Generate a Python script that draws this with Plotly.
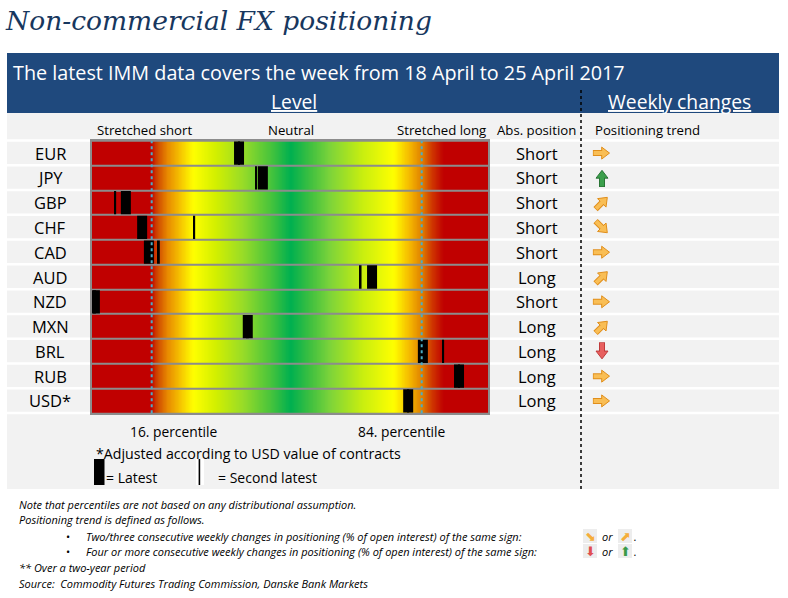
import numpy as np
import plotly.graph_objects as go

# ---------------- data ----------------
currencies = ["EUR", "JPY", "GBP", "CHF", "CAD", "AUD", "NZD", "MXN", "BRL", "RUB", "USD*"]
latest_pct = [38.0, 44.0, 9.5, 13.6, 15.3, 71.5, 1.7, 40.2, 84.3, 93.4, 80.6]
second_latest_pct = [38.0, 42.3, 6.8, 26.7, 17.8, 68.6, 1.7, 40.2, 89.4, 93.4, 80.6]
abs_position = ["Short", "Short", "Short", "Short", "Short", "Long", "Short", "Long", "Long", "Long", "Long"]
trend = ["flat", "up4", "up23", "down23", "flat", "up23", "flat", "up23", "down4", "flat", "flat"]
percentile_lines = [16, 84]
percentile_labels = ["16. percentile", "84. percentile"]
zone_labels = ["Stretched short", "Neutral", "Stretched long"]

# ---------------- style ----------------
W, H = 788, 598
def px(x):
    return x / W
def py(y):
    return 1 - y / H

N = len(currencies)
XMIN, XMAX = 0.97, 100.7
BAR_L, BAR_R, BAR_T, BAR_B = 92, 488, 140.7, 413.3
ROW_H = (BAR_B - BAR_T) / N

grad_stops = [
    (XMIN, "#C00000"), (15.8, "#C00000"), (17.5, "#D04A00"), (20.0, "#E88A00"),
    (23.0, "#F5C000"), (26.5, "#FFFF00"), (32.0, "#D4F000"), (39.0, "#98DC28"),
    (46.0, "#48C43C"), (51.0, "#00B050"), (56.0, "#40C040"), (61.0, "#7ED43A"),
    (69.0, "#C8EE10"), (77.0, "#FFFF00"), (81.0, "#F5B800"), (84.0, "#E08000"),
    (86.5, "#D03A00"), (89.5, "#C00000"), (XMAX, "#C00000"),
]
colorscale = [[(v - XMIN) / (XMAX - XMIN), c] for v, c in grad_stops]

BLUE = "#1F497D"
PANEL = "#F2F2F2"
FONT = "Open Sans"
ORANGE = "#F5AE3A"
GREEN = "#3A9A48"
RED = "#E05050"

arrow_angle = {"flat": 90, "up23": 45, "down23": 135, "up4": 0, "down4": 180}
arrow_fill = {"flat": "#F9BE55", "up23": "#F9BE55", "down23": "#F9BE55", "up4": "#3CA04C", "down4": "#E8605F"}
arrow_line = {"flat": "#E08E1B", "up23": "#E08E1B", "down23": "#E08E1B", "up4": "#2A7436", "down4": "#BF3A3A"}

fig = go.Figure()

xs = np.linspace(XMIN, XMAX, 500)
fig.add_trace(go.Heatmap(
    x=xs, y=currencies, z=[xs for _ in currencies], colorscale=colorscale,
    zmin=XMIN, zmax=XMAX, showscale=False, ygap=2, hoverinfo="skip",
))

LAT_W, SEC_W = 2.52, 0.5
fig.add_trace(go.Bar(
    y=currencies, x=[SEC_W] * N, base=[v - SEC_W / 2 for v in second_latest_pct],
    orientation="h", width=0.94, marker=dict(color="black", line=dict(width=0)), hoverinfo="skip",
))
fig.add_trace(go.Bar(
    y=currencies, x=[LAT_W] * N, base=[v - LAT_W / 2 for v in latest_pct],
    orientation="h", width=0.94, marker=dict(color="black", line=dict(width=0)), hoverinfo="skip",
))

# trend arrows (shaft + head markers, rotated by trend direction;
# marker standoff pushes a marker back against its angle)
ang = [arrow_angle[t] for t in trend]
back = [a + 180 for a in ang]
fills = [arrow_fill[t] for t in trend]
lines = [arrow_line[t] for t in trend]
col = [0] * N
fig.add_trace(go.Scatter(x=col, y=currencies, xaxis="x2", yaxis="y", mode="markers", hoverinfo="skip",
                         marker=dict(symbol="line-ns", size=8, angle=ang, standoff=3.5,
                                     line=dict(width=6, color=lines))))
fig.add_trace(go.Scatter(x=col, y=currencies, xaxis="x2", yaxis="y", mode="markers", hoverinfo="skip",
                         marker=dict(symbol="triangle-down", size=10.4, angle=back, standoff=2.3, color=fills,
                                     line=dict(width=1, color=lines))))
fig.add_trace(go.Scatter(x=col, y=currencies, xaxis="x2", yaxis="y", mode="markers", hoverinfo="skip",
                         marker=dict(symbol="line-ns", size=7, angle=ang, standoff=3.5,
                                     line=dict(width=4, color=fills))))

shapes = []
def rect(x0, y0, x1, y1, color, layer="below"):
    shapes.append(dict(type="rect", xref="paper", yref="paper", x0=px(x0), x1=px(x1),
                       y0=py(y1), y1=py(y0), fillcolor=color, line=dict(width=0), layer=layer))

# gray backing of gradient area (shows through row gaps)
shapes.append(dict(type="rect", xref="x domain", yref="y domain", x0=0, x1=1, y0=0, y1=1,
                   fillcolor="#8C8C8C", line=dict(width=0), layer="below"))
# blue header band
rect(7, 53, 779, 113, BLUE)
# light panel (around the gradient area)
rect(7, 113, 779, BAR_T, PANEL)
rect(7, BAR_T, BAR_L, BAR_B, PANEL)
rect(BAR_R, BAR_T, 779, BAR_B, PANEL)
rect(7, BAR_B, 779, 489, PANEL)
# white row separators in side columns
for i in range(N + 1):
    yb = BAR_T + i * ROW_H
    rect(7, yb - 1.5, BAR_L, yb + 1.0, "white")
    rect(BAR_R + 1, yb - 1.5, 779, yb + 1.0, "white")

# percentile dotted lines
for v in percentile_lines:
    shapes.append(dict(type="line", xref="x", yref="paper", x0=v, x1=v, y0=py(BAR_B), y1=py(BAR_T),
                       line=dict(color="#4BACC6", width=2, dash="dot"), layer="above"))
# section separator
shapes.append(dict(type="line", xref="paper", yref="paper", x0=px(581), x1=px(581), y0=py(489), y1=py(88),
                   line=dict(color="black", width=1.5, dash="dot"), layer="above"))
# legend swatches
rect(94, 459, 104.5, 485, "black", layer="above")
rect(196, 459, 204, 485, "white", layer="above")
rect(198.6, 459, 200.2, 485, "black", layer="above")
# footnote icon backgrounds
for y in (536, 551):
    for x in (590, 625):
        rect(x - 7, y - 7, x + 7, y + 7, "#EDEDED", layer="below")

ann = []
def text(t, x, y, size, color="black", xanchor="center", family=FONT, yref="paper"):
    ann.append(dict(text=t, x=px(x), y=(py(y) if yref == "paper" else y), xref="paper", yref=yref,
                    showarrow=False, xanchor=xanchor, yanchor="middle",
                    font=dict(size=size, color=color, family=family)))

text("<i>Non-commercial FX positioning</i>", 3, 21, 26.5, color="#17375E", xanchor="left", family="DejaVu Serif")
text("The latest IMM data covers the week from 18 April to 25 April 2017", 11, 72, 19.8, color="white", xanchor="left")
text("<u>Level</u>", 294, 101, 19.3, color="white")
text("<u>Weekly changes</u>", 679, 101, 19.3, color="white")

for lab, x in zip(zone_labels, [144, 291, 442]):
    text(lab, x, 130, 13.2)
text("Abs. position", 536, 130, 13.2)
text("Positioning trend", 593, 130, 13.2, xanchor="left")

for c, a in zip(currencies, abs_position):
    text(c, 50, c, 16.5, yref="y")
    text(a, 537, c, 16.5, yref="y")

for lab, v in zip(percentile_labels, percentile_lines):
    xp = BAR_L + (v - XMIN) / (XMAX - XMIN) * (BAR_R - BAR_L)
    text(lab, xp + 22 if v < 50 else xp - 20, 431, 13.8)
text("*Adjusted according to USD value of contracts", 94, 453, 14.2, xanchor="left")
text("= Latest", 104, 477, 14, xanchor="left")
text("= Second latest", 216, 477, 14, xanchor="left")

foot = [
    (17, 504, "Note that percentiles are not based on any distributional assumption."),
    (17, 519, "Positioning trend is defined as follows."),
    (84, 536, "Two/three consecutive weekly changes in positioning (% of open interest) of the same sign:"),
    (84, 551, "Four or more consecutive weekly changes in positioning (% of open interest) of the same sign:"),
    (17, 567, "** Over a two-year period"),
    (17, 583, "Source:  Commodity Futures Trading Commission, Danske Bank Markets"),
]
for x, y, t in foot:
    text("<i>" + t + "</i>", x, y, 11, xanchor="left")
for y in (536, 551):
    text("•", 64, y, 11, xanchor="left")
    text("<i>or</i>", 607, y, 11)
    text("<i>.</i>", 632, y, 11, xanchor="left")
text("⬊", 590, 536, 13, color=ORANGE, family="DejaVu Sans")
text("⬈", 625, 536, 13, color=ORANGE, family="DejaVu Sans")
text("⬇", 590, 551, 13, color=RED, family="DejaVu Sans")
text("⬆", 625, 551, 13, color=GREEN, family="DejaVu Sans")

fig.update_layout(
    width=W, height=H, margin=dict(l=0, r=0, t=0, b=0), autosize=False,
    paper_bgcolor="white", plot_bgcolor="rgba(0,0,0,0)", showlegend=False, barmode="overlay",
    shapes=shapes, annotations=ann,
    xaxis=dict(domain=[px(BAR_L), px(BAR_R)], range=[XMIN, XMAX], showgrid=False, zeroline=False,
               showticklabels=False, ticks="", showline=True, linecolor="#8C8C8C", linewidth=1.5, mirror=True,
               fixedrange=True),
    xaxis2=dict(domain=[px(582), px(622)], range=[-20, 20], anchor="y", visible=False, fixedrange=True),
    yaxis=dict(domain=[py(BAR_B), py(BAR_T)], range=[N - 0.5, -0.5], showgrid=False, zeroline=False,
               showticklabels=False, ticks="", showline=True, linecolor="#8C8C8C", linewidth=1.5, mirror=True,
               fixedrange=True),
)
fig.write_html("out.html", config={"displayModeBar": False},
               post_script="document.body.style.margin='0';")
